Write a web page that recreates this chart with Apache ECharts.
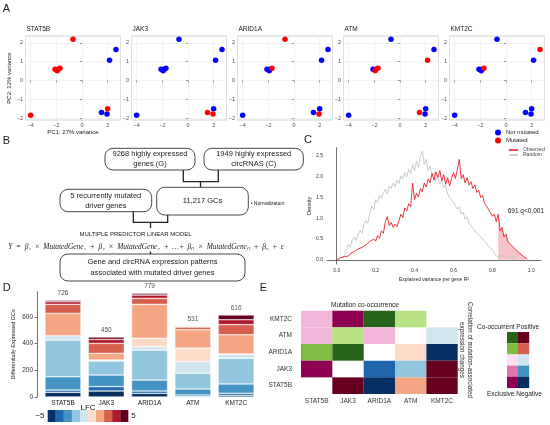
<!DOCTYPE html>
<html>
<head>
<meta charset="utf-8">
<script src="https://cdn.jsdelivr.net/npm/echarts@6/dist/echarts.min.js"></script>
<style>
html, body { margin: 0; padding: 0; background: #fff; }
#chart { width: 550px; height: 425px; }
</style>
</head>
<body>
<div id="chart"></div>
<script>
// ---- panel A: PCA of the samples, coloured by mutation status ----
var genes = ['STAT5B', 'JAK3', 'ARID1A', 'ATM', 'KMT2C'];
var pc1 = [-0.7, 2.65, 2.15, -2.1, -1.93, -1.85, -1.72, -4.0, 1.52, 1.95, 2.0];
var pc2 = [2.2, 1.65, 1.08, 0.6, 0.52, 0.6, 0.66, -1.85, -1.7, -1.78, -1.5];
var mutSTAT5B = [1, 0, 0, 1, 1, 1, 1, 1, 0, 0, 1];
var mutJAK3   = [0, 0, 0, 0, 0, 0, 0, 0, 1, 1, 0];
var mutARID1A = [1, 0, 0, 0, 0, 0, 1, 0, 0, 1, 0];
var mutATM    = [0, 0, 1, 0, 1, 1, 1, 0, 1, 0, 0];
var mutKMT2C  = [0, 1, 0, 0, 0, 0, 1, 0, 0, 0, 0];

// ---- panel C: density of explained variance ----
var rSq = [0.00, 0.01, 0.02, 0.03, 0.04, 0.05, 0.06, 0.07, 0.08, 0.09,
           0.10, 0.11, 0.12, 0.13, 0.14, 0.15, 0.16, 0.17, 0.18, 0.19,
           0.20, 0.21, 0.22, 0.23, 0.24, 0.25, 0.26, 0.27, 0.28, 0.29,
           0.30, 0.31, 0.32, 0.33, 0.34, 0.35, 0.36, 0.37, 0.38, 0.39,
           0.40, 0.41, 0.42, 0.43, 0.44, 0.45, 0.46, 0.47, 0.48, 0.49,
           0.50, 0.51, 0.52, 0.53, 0.54, 0.55, 0.56, 0.57, 0.58, 0.59,
           0.60, 0.61, 0.62, 0.63, 0.64, 0.65, 0.66, 0.67, 0.68, 0.69,
           0.70, 0.71, 0.72, 0.73, 0.74, 0.75, 0.76, 0.77, 0.78, 0.79,
           0.80, 0.81, 0.82, 0.83, 0.84, 0.85, 0.86, 0.87, 0.88, 0.89,
           0.90, 0.91, 0.92, 0.93, 0.94, 0.95, 0.96, 0.97, 0.98, 0.99, 1.00];
var observed = [0.00, 0.02, 0.05, 0.03, 0.08, 0.12, 0.09, 0.15, 0.12, 0.20,
                0.17, 0.26, 0.22, 0.30, 0.27, 0.36, 0.32, 0.44, 0.40, 0.50,
                0.45, 0.58, 0.52, 0.70, 0.64, 0.92, 1.04, 0.82, 0.90, 0.78,
                0.86, 0.80, 0.95, 1.10, 1.02, 1.25, 1.18, 1.35, 1.28, 1.85,
                1.45, 1.60, 1.52, 1.72, 1.64, 1.85, 1.76, 1.95, 1.86, 2.08,
                1.92, 2.12, 1.98, 2.15, 1.90, 2.05, 1.82, 1.98, 1.78, 1.95,
                2.10, 1.96, 2.18, 2.42, 1.95, 2.05, 1.85, 1.98, 1.80, 1.88,
                1.72, 1.80, 1.62, 1.68, 1.50, 1.55, 1.36, 1.40, 1.22, 1.25,
                1.05, 1.10, 0.92, 1.10, 0.70, 0.78, 0.55, 0.62, 0.44, 0.48,
                0.34, 0.38, 0.25, 0.28, 0.16, 0.18, 0.08, 0.06, 0.02, null, null];
var random = [null, null, null, 0.02, 0.10, 0.25, 0.38, 0.30, 0.48, 0.55,
              0.46, 0.62, 0.70, 0.64, 0.86, 0.95, 0.88, 1.12, 1.30, 1.20,
              1.45, 1.38, 1.55, 1.48, 1.62, 1.70, 1.58, 1.78, 1.72, 1.85,
              1.76, 1.92, 1.84, 2.02, 1.95, 2.10, 2.00, 2.18, 2.08, 2.30,
              2.14, 2.38, 2.22, 2.50, 2.62, 2.30, 2.42, 2.15, 2.26, 2.02,
              2.10, 1.88, 1.98, 1.82, 1.90, 1.74, 1.80, 1.58, 1.62, 1.45,
              1.38, 1.42, 1.22, 1.28, 1.10, 1.15, 0.98, 1.04, 0.88, 0.92,
              0.76, 0.80, 0.64, 0.68, 0.55, 0.58, 0.45, 0.48, 0.34, 0.30,
              0.24, 0.16, 0.10, 0.05, 0.12, 0.06, 0.14, 0.08, 0.12, 0.05,
              0.10, 0.03, 0.00, null, null, null, null, null, null, null, null];
var tailStart = 0.83;

// ---- panel D: differentially expressed GCs per LFC bin (-5 .. 5) ----
var stat5bCounts = [35, 17, 100, 275, 33, 0, 167, 68, 20, 11];
var jak3Counts   = [45, 33, 87, 105, 7, 0, 50, 75, 30, 18];
var arid1aCounts = [27, 18, 82, 225, 25, 63, 255, 45, 25, 14];
var atmCounts    = [3, 12, 45, 118, 88, 101, 138, 20, 6, 0];
var kmt2cCounts  = [12, 16, 70, 193, 31, 0, 145, 76, 37, 36];
var deTotals = [726, 450, 779, 531, 616];

// ---- panel E: [row gene, column gene, score in -1..1] ----
var coOccurrence = [
  ['KMT2C', 'STAT5B', -0.4], ['KMT2C', 'JAK3', -1], ['KMT2C', 'ARID1A', 1], ['KMT2C', 'ATM', 0.4],
  ['ATM', 'STAT5B', -0.4], ['ATM', 'JAK3', 0.4], ['ATM', 'ARID1A', -0.4],
  ['ARID1A', 'STAT5B', 0.6], ['ARID1A', 'JAK3', 1],
  ['JAK3', 'STAT5B', -1]
];
var correlation = [
  ['ATM', 'KMT2C', -0.2],
  ['ARID1A', 'ATM', 0.2], ['ARID1A', 'KMT2C', -1],
  ['JAK3', 'ARID1A', -0.8], ['JAK3', 'ATM', -0.4], ['JAK3', 'KMT2C', 1],
  ['STAT5B', 'JAK3', 1], ['STAT5B', 'ARID1A', -1], ['STAT5B', 'ATM', 0.4], ['STAT5B', 'KMT2C', 1]
];

var FONT = 'Liberation Sans';
var BLUE = '#0000ff', RED = '#ff0000';
var lfcColors = ['#053061', '#2166ac', '#4393c3', '#92c5de', '#d1e5f0',
                 '#fddbc7', '#f4a582', '#d6604d', '#b2182b', '#67001f'];
var piyg = ['#8e0152', '#c51b7d', '#de77ae', '#f1b6da', '#fde0ef', '#f7f7f7',
            '#e6f5d0', '#b8e186', '#7fbc41', '#4d9221', '#276419'];
var rdbu = ['#67001f', '#b2182b', '#d6604d', '#f4a582', '#fddbc7', '#f7f7f7',
            '#d1e5f0', '#92c5de', '#4393c3', '#2166ac', '#053061'];

function minus(v) {
  return v < 0 ? '\u2212' + Math.abs(v) : String(v);
}

var grids = [], xAxes = [], yAxes = [], series = [], titles = [];
var mutFlags = [mutSTAT5B, mutJAK3, mutARID1A, mutATM, mutKMT2C];

// panel A grids
genes.forEach(function (g, i) {
  var left = 25.5 + 106 * i;
  grids.push({ left: left, top: 36, width: 95, height: 84, show: true,
    borderColor: '#c4c4c4', borderWidth: 0.8, backgroundColor: '#fff' });
  titles.push({ text: g, left: left + 1, top: 25.5, padding: 0,
    textStyle: { fontSize: 6.5, fontWeight: 'normal', color: '#1a1a1a', fontFamily: FONT } });
  var xa = { gridIndex: i, type: 'value', min: -4.4, max: 3.0, splitNumber: 4,
    axisLine: { show: false },
    axisTick: { show: true, length: 2, lineStyle: { color: '#555', width: 0.6 } },
    axisLabel: { fontSize: 5.5, color: '#4d4d4d', margin: 2.5, showMinLabel: false, showMaxLabel: false, formatter: minus },
    splitLine: { show: true, lineStyle: { color: '#ebebeb', width: 0.6 } } };
  var ya = { gridIndex: i, type: 'value', min: -2.1, max: 2.37, splitNumber: 4,
    axisLine: { show: false },
    axisTick: { show: true, length: 2, lineStyle: { color: '#555', width: 0.6 } },
    axisLabel: { fontSize: 5.5, color: '#4d4d4d', margin: 2.5, showMinLabel: false, showMaxLabel: false, formatter: minus },
    splitLine: { show: true, lineStyle: { color: '#ebebeb', width: 0.6 } } };
  if (i === 0) {
    xa.name = 'PC1: 27% variance';
    xa.nameLocation = 'middle';
    xa.nameGap = 9;
    xa.nameTextStyle = { fontSize: 6, color: '#1a1a1a' };
    ya.name = 'PC2: 12% variance';
    ya.nameLocation = 'middle';
    ya.nameGap = 11;
    ya.nameTextStyle = { fontSize: 6, color: '#1a1a1a' };
  }
  xAxes.push(xa);
  yAxes.push(ya);
  var flags = mutFlags[i];
  var wild = [], mut = [];
  pc1.forEach(function (x, k) {
    (flags[k] ? mut : wild).push([x, pc2[k]]);
  });
  series.push({ type: 'scatter', name: 'Not mutated', xAxisIndex: i, yAxisIndex: i,
    data: wild, symbolSize: 5.5, itemStyle: { color: BLUE, opacity: 1 } });
  series.push({ type: 'scatter', name: 'Mutated', xAxisIndex: i, yAxisIndex: i,
    data: mut, symbolSize: 5.5, itemStyle: { color: RED, opacity: 1 } });
});

// panel C
grids.push({ left: 327, top: 147.7, width: 214, height: 116.3 });
xAxes.push({ gridIndex: 5, type: 'value', min: -0.05, max: 1.05, splitNumber: 5,
  axisLine: { show: true, lineStyle: { color: '#333', width: 0.7 } },
  axisTick: { show: false },
  axisLabel: { fontSize: 5, color: '#333', margin: 4, showMinLabel: false, showMaxLabel: false,
    formatter: function (v) { return v.toFixed(1); } },
  splitLine: { show: false },
  name: 'Explained variance per gene R\u00b2', nameLocation: 'middle', nameGap: 13,
  nameTextStyle: { fontSize: 5, color: '#1a1a1a' } });
yAxes.push({ gridIndex: 5, type: 'value', min: -0.1, max: 2.7, splitNumber: 5,
  axisLine: { show: true, lineStyle: { color: '#333', width: 0.7 } },
  axisTick: { show: false },
  axisLabel: { fontSize: 5, color: '#333', margin: 4, showMinLabel: false, showMaxLabel: false,
    formatter: function (v) { return v.toFixed(1); } },
  splitLine: { show: false },
  name: 'Density', nameLocation: 'middle', nameGap: 10,
  nameTextStyle: { fontSize: 5.5, color: '#1a1a1a' } });

function pairs(ys, fromX) {
  var out = [];
  rSq.forEach(function (x, k) {
    if (ys[k] !== null && x >= fromX) out.push([x, ys[k]]);
  });
  return out;
}
series.push({ type: 'line', name: 'Observed tail', xAxisIndex: 5, yAxisIndex: 5,
  data: pairs(observed, tailStart), showSymbol: false, silent: true,
  lineStyle: { width: 0 }, areaStyle: { color: '#f3a9b1', opacity: 0.7 }, z: 1 });
series.push({ type: 'line', name: 'Random', xAxisIndex: 5, yAxisIndex: 5,
  data: pairs(random, -1), showSymbol: false, color: '#c4c4c4',
  lineStyle: { width: 0.9, color: '#c4c4c4' }, itemStyle: { color: '#c4c4c4' }, z: 2 });
series.push({ type: 'line', name: 'Observed', xAxisIndex: 5, yAxisIndex: 5,
  data: pairs(observed, -1), showSymbol: false, color: '#e8202a',
  lineStyle: { width: 0.9, color: '#e8202a' }, itemStyle: { color: '#e8202a' }, z: 3 });

// panel D
grids.push({ left: 41.3, top: 291.7, width: 216.5, height: 105.3 });
xAxes.push({ gridIndex: 6, type: 'category', data: genes,
  axisLine: { show: false }, axisTick: { show: false },
  axisLabel: { fontSize: 6.5, color: '#1a1a1a', margin: 2.5 } });
yAxes.push({ gridIndex: 6, type: 'value', min: 0, max: 790, interval: 200, offset: 4.3,
  axisLine: { show: true, lineStyle: { color: '#333', width: 0.7 } },
  axisTick: { show: true, length: 2.5, lineStyle: { color: '#333', width: 0.7 } },
  axisLabel: { fontSize: 6.5, color: '#333', margin: 4, showMaxLabel: false },
  splitLine: { show: false },
  name: 'Differentially Expressed GCs', nameLocation: 'middle', nameGap: 21,
  nameTextStyle: { fontSize: 5.5, color: '#1a1a1a' } });
var geneCounts = [stat5bCounts, jak3Counts, arid1aCounts, atmCounts, kmt2cCounts];
lfcColors.forEach(function (c, b) {
  series.push({ type: 'bar', name: 'LFC ' + b, xAxisIndex: 6, yAxisIndex: 6, stack: 'lfc',
    barWidth: 36, data: geneCounts.map(function (row) { return row[b]; }),
    itemStyle: { color: c, borderColor: '#fff', borderWidth: 0.5 } });
});
series.push({ type: 'scatter', name: 'totals', xAxisIndex: 6, yAxisIndex: 6,
  data: deTotals, symbolSize: 0.1, itemStyle: { color: 'rgba(0,0,0,0)' }, silent: true,
  label: { show: true, position: 'top', distance: 3, fontSize: 6.5, color: '#1a1a1a',
    formatter: function (p) { return deTotals[p.dataIndex]; } } });

// panel E
grids.push({ left: 301, top: 310.7, width: 156.7, height: 83.3 });
xAxes.push({ gridIndex: 7, type: 'category', data: genes,
  axisLine: { show: false }, axisTick: { show: false },
  axisLabel: { fontSize: 6.5, color: '#333', margin: 4 } });
yAxes.push({ gridIndex: 7, type: 'category', data: genes,
  axisLine: { show: false }, axisTick: { show: false },
  axisLabel: { fontSize: 6.5, color: '#333', margin: 9 } });

function cellData(list) {
  return list.map(function (d) {
    return [genes.indexOf(d[1]), genes.indexOf(d[0]), d[2]];
  });
}
function cellRenderer(palette, toIndex) {
  return function (params, api) {
    var p = api.coord([api.value(0), api.value(1)]);
    var s = api.size([1, 1]);
    return { type: 'rect',
      shape: { x: p[0] - s[0] / 2, y: p[1] - s[1] / 2, width: s[0], height: s[1] },
      style: { fill: palette[toIndex(api.value(2))] } };
  };
}
series.push({ type: 'custom', name: 'co-occurrence', xAxisIndex: 7, yAxisIndex: 7,
  data: cellData(coOccurrence),
  renderItem: cellRenderer(piyg, function (v) { return Math.round((v + 1) * 5); }) });
series.push({ type: 'custom', name: 'correlation', xAxisIndex: 7, yAxisIndex: 7,
  data: cellData(correlation),
  renderItem: cellRenderer(rdbu, function (v) { return Math.round((1 - v) * 5); }) });

// ---- free drawing: letters, flow chart, colour keys ----
function txt(x, y, s, size, extra) {
  var st = { text: s, fontSize: size, fontFamily: FONT, fill: '#1a1a1a',
    textAlign: 'left', align: 'left', textVerticalAlign: 'middle', verticalAlign: 'middle' };
  for (var k in extra || {}) st[k] = extra[k];
  return { type: 'text', x: x, y: y, silent: true, style: st };
}
function ctxt(x, y, s, size, extra) {
  var e = txt(x, y, s, size, extra);
  e.style.textAlign = 'center';
  e.style.align = 'center';
  return e;
}
function box(x, y, w, h) {
  return { type: 'rect', silent: true, shape: { x: x, y: y, width: w, height: h, r: 8 },
    style: { fill: '#fff', stroke: '#333', lineWidth: 0.9 } };
}
function wire(points) {
  return { type: 'polyline', silent: true, shape: { points: points },
    style: { stroke: '#222', lineWidth: 1.3, fill: null } };
}

var graphics = [
  ctxt(6.5, 9, 'A', 11), ctxt(6.5, 141, 'B', 11), ctxt(308, 139.5, 'C', 11),
  ctxt(6.7, 287.5, 'D', 11), ctxt(263.3, 287.5, 'E', 11),

  box(105, 148.3, 90, 21.7), ctxt(150, 159.2, '9268 highly expressed\ngenes (G)', 7.5, { lineHeight: 10 }),
  box(204, 148.3, 99.3, 21.7), ctxt(253.7, 159.2, '1949 highly expressed\ncircRNAS (C)', 7.5, { lineHeight: 10 }),
  wire([[183.3, 170], [183.3, 181.7], [218.3, 181.7], [218.3, 170]]),
  wire([[200.5, 181.7], [200.5, 187.3]]),
  box(60, 189.3, 91.7, 22.4), ctxt(105.8, 200.5, '5 recurrently mutated\ndriver genes', 7.5, { lineHeight: 10 }),
  box(156.7, 187.3, 91.6, 27.7), ctxt(202.5, 201.2, '11,217 GCs', 7.5),
  txt(250.7, 204, '\u2022 Normalization', 5),
  wire([[133.3, 211.7], [133.3, 222.3], [167.7, 222.3], [167.7, 215]]),
  wire([[150.5, 222.3], [150.5, 228]]),
  ctxt(135.5, 234, 'MULTIPLE PREDICTOR LINEAR MODEL', 6),
  ctxt(146, 247.5, 'Y  =  \u03b2\u2081  \u00d7  MutatedGene\u2081  +  \u03b2\u2082  \u00d7  MutatedGene\u2082  +  \u2026+  \u03b2\u2099  \u00d7  MutatedGene\u2099  +  \u03b2\u2080  +  \u03b5',
    7.4, { fontFamily: 'Liberation Serif', fontStyle: 'italic' }),
  wire([[150.5, 251.5], [150.5, 254]]),
  box(60, 254, 185, 27), ctxt(152.5, 267.3, 'Gene and circRNA expression patterns\nassociated with mutated driver genes', 7.5, { lineHeight: 11 }),

  txt(507.7, 211, '691 q<0.001', 6.5),

  ctxt(88, 407.5, 'LFC', 8),
  ctxt(40, 416, '\u22125', 8),
  ctxt(133.5, 416, '5', 8),

  ctxt(365, 305, 'Mutation co-occurrence', 6.5),
  { type: 'text', x: 466, y: 350, rotation: -Math.PI / 2, silent: true,
    style: { text: 'Correlation of mutation-associated\nexpression changes', fontSize: 6.3, lineHeight: 8,
      fontFamily: FONT, fill: '#1a1a1a', textAlign: 'center', align: 'center',
      textVerticalAlign: 'middle', verticalAlign: 'middle' } },
  txt(477, 327, 'Co-occurrent Positive', 6.5),
  txt(487, 394, 'Exclusive Negative', 6.5)
];
lfcColors.forEach(function (c, b) {
  graphics.push({ type: 'rect', silent: true,
    shape: { x: 47.7 + b * 8.06, y: 410, width: 8.1, height: 12 }, style: { fill: c } });
});
var keyLeft = [10, 8, 4, 2, 0];
var keyRight = [0, 2, 6, 8, 10];
keyLeft.forEach(function (idx, r) {
  graphics.push({ type: 'rect', silent: true,
    shape: { x: 507, y: 332 + r * 11.2, width: 11.2, height: 11.3 }, style: { fill: piyg[idx] } });
  graphics.push({ type: 'rect', silent: true,
    shape: { x: 518, y: 332 + r * 11.2, width: 11.2, height: 11.3 }, style: { fill: rdbu[keyRight[r]] } });
});

var option = {
  animation: false,
  backgroundColor: '#fff',
  textStyle: { fontFamily: FONT },
  title: titles,
  legend: [
    { data: ['Not mutated', 'Mutated'], orient: 'vertical', left: 495, top: 129.5, padding: 0,
      itemWidth: 6, itemHeight: 6, itemGap: 2, icon: 'circle', selectedMode: false,
      textStyle: { fontSize: 6, color: '#1a1a1a' } },
    { data: ['Observed', 'Random'], orient: 'vertical', left: 509, top: 147.5, padding: 0,
      itemWidth: 9, itemHeight: 1.6, itemGap: 0, icon: 'rect', selectedMode: false,
      textStyle: { fontSize: 5, color: '#444' } }
  ],
  grid: grids,
  xAxis: xAxes,
  yAxis: yAxes,
  series: series,
  graphic: { elements: graphics }
};

var chart = echarts.init(document.getElementById('chart'), null, { renderer: 'canvas' });
chart.setOption(option);
</script>
</body>
</html>
